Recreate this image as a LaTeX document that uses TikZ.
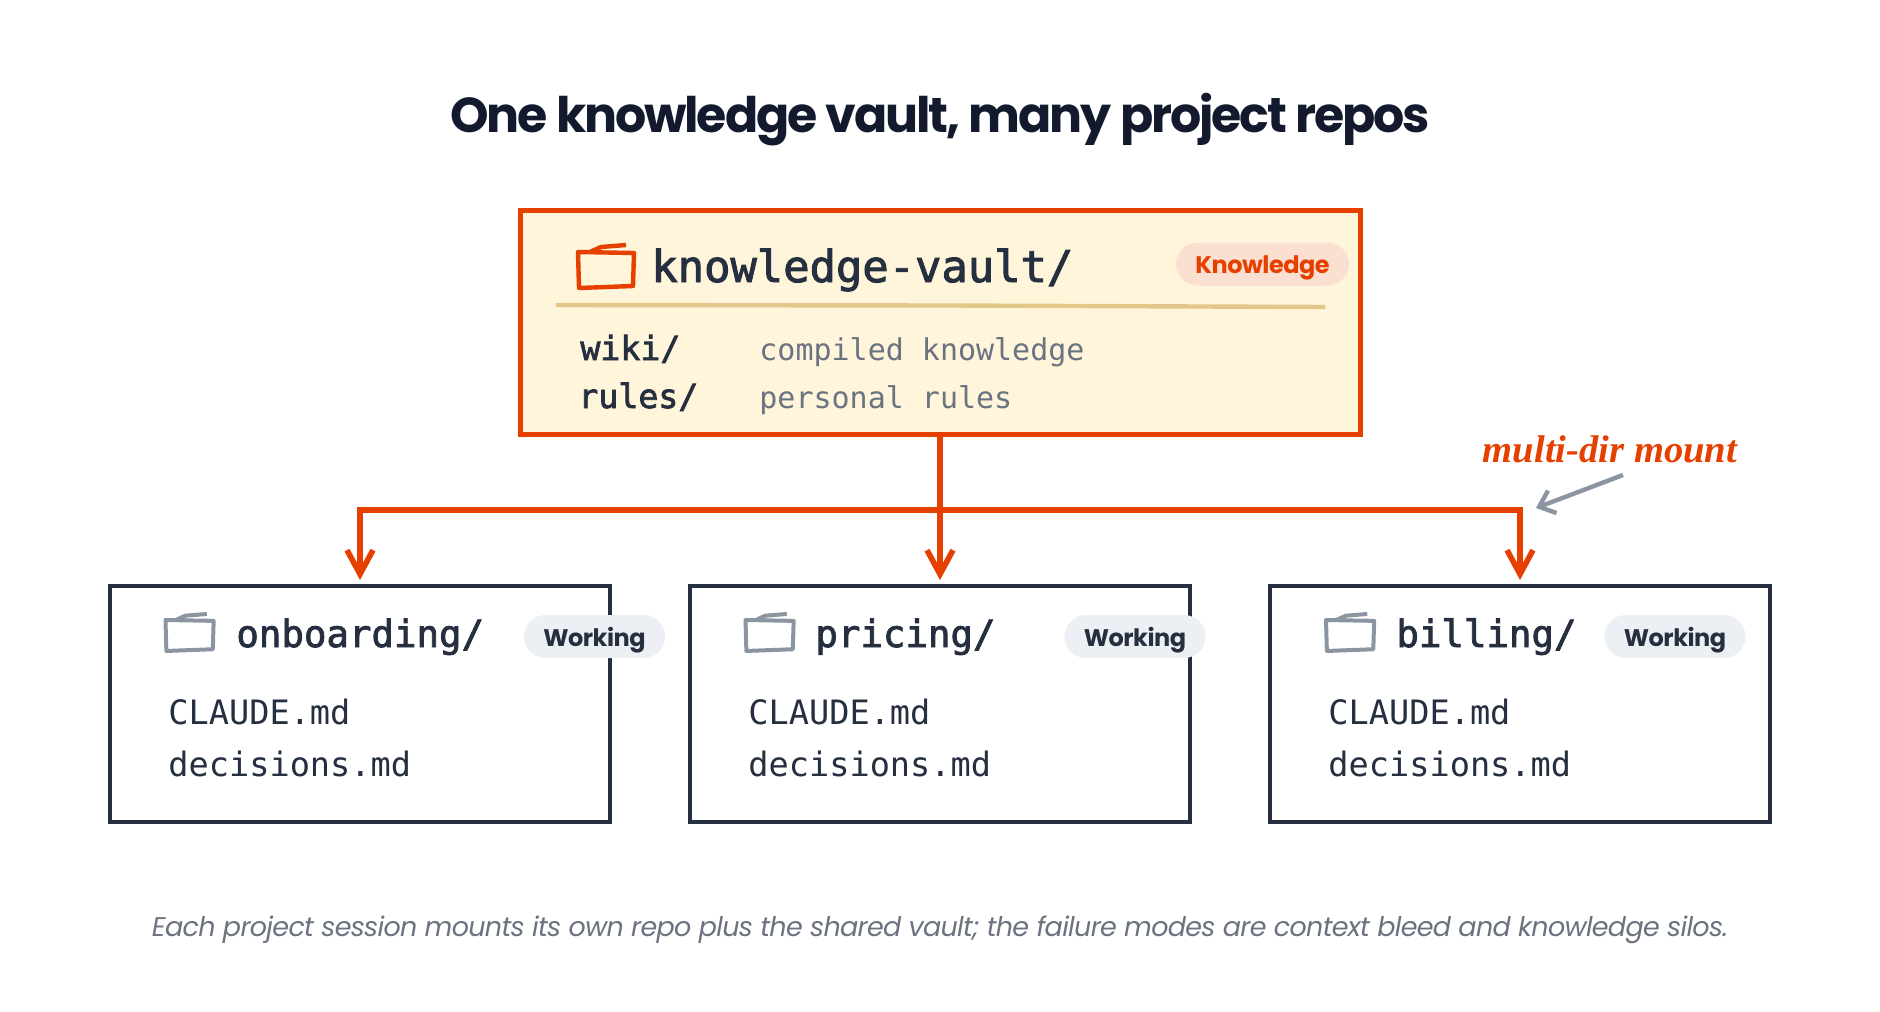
\documentclass[tikz,border=0pt]{standalone}
\usepackage{fontspec}
\usepackage{xcolor}
\usepackage{tikz}
\usetikzlibrary{arrows.meta, positioning, shapes.misc}
\setmainfont{Poppins}
\newfontfamily\monofont{DejaVu Sans Mono}
\newfontfamily\monoheavy[FakeBold=2.2]{DejaVu Sans Mono}
\newfontfamily\notefont{Liberation Serif}
\definecolor{accent}{HTML}{E64000}
\definecolor{ink}{HTML}{252F3F}
\definecolor{titleink}{HTML}{131A2E}
\definecolor{muted}{HTML}{6B7280}
\definecolor{softgray}{HTML}{8B94A1}
\definecolor{vaultfill}{HTML}{FFF5DB}
\definecolor{rulefill}{HTML}{E2C68A}
\definecolor{pillwarm}{HTML}{FBDFD0}
\definecolor{pillcool}{HTML}{ECEFF4}
\tikzset{
  vaultbox/.style={rectangle, draw=accent, fill=vaultfill, line width=2.5pt, outer sep=0pt,
                   minimum width=420pt, minimum height=112pt},
  repobox/.style={rectangle, draw=ink, fill=white, line width=2pt, outer sep=0pt,
                  minimum width=250pt, minimum height=118pt},
  pill/.style={rounded rectangle, inner sep=0pt, minimum height=21.5pt, text height=10pt, text depth=0.5pt,
               font=\fontsize{12}{15}\selectfont\bfseries\addfontfeature{LetterSpace=-2}},
  label/.style={anchor=base west, inner sep=0pt, text=ink},
  vaultname/.style={label, font=\monoheavy\fontsize{21.9}{26}\selectfont},
  reponame/.style={label, font=\monoheavy\fontsize{18.7}{22}\selectfont},
  vaultitem/.style={label, font=\monoheavy\fontsize{16.6}{20}\selectfont},
  vaultnote/.style={label, text=muted, font=\monofont\fontsize{15}{18}\selectfont},
  fileitem/.style={label, font=\monofont\fontsize{16.8}{20}\selectfont},
  link/.style={draw=accent, line width=2.8pt},
  arrow/.style={-{Straight Barb[length=12pt, width=13pt, line width=2.8pt]}, link, shorten >=3pt},
  notearrow/.style={-{Straight Barb[length=7pt, width=12pt, line width=2.2pt]}, draw=softgray, line width=2.2pt},
  foldericon/.pic={
    \draw[line join=round, pic actions] (0,0) -- (56,1) -- (55,34) -- (1,36) -- cycle
      (12,0) -- (23,-5) -- (48,-7);
  }
}
\begin{document}
\begin{tikzpicture}[x=0.5pt, y=-0.5pt]

  \fill[white] (0,0) rectangle (1880,1012);
  \useasboundingbox (0,0) rectangle (1880,1012);

  \node[anchor=base, inner sep=0pt, text=titleink, font=\fontsize{24.5}{30}\selectfont\bfseries] (title)
    at (940,132) {\addfontfeature{LetterSpace=-4.3}One knowledge vault, many project repos};

  \node[vaultbox] (vault) at (940,322) {};
  \node[repobox, below=76pt of vault] (pricing) {};
  \node[repobox, left=40pt of pricing] (onboarding) {};
  \node[repobox, right=40pt of pricing] (billing) {};

  % vault contents
  \pic[draw=accent, line width=2.2pt] at (578,252) {foldericon};
  \node[vaultname] (vaultname) at (651,282) {knowledge-vault/};
  \node[pill, fill=pillwarm, text=accent, minimum width=86.5pt] (vaultpill) at (1262.5,264) {Knowledge};
  \draw[rulefill, line width=2.2pt] (556,305) -- (950,305.5) -- (1325,307);
  \node[vaultitem] (wiki) at (580,360) {wiki/};
  \node[vaultitem] (rules) at (578,408) {rules/};
  \node[vaultnote] (wikinote) at (759,360) {compiled knowledge};
  \node[vaultnote] (rulesnote) at (759,408) {personal rules};

  % repo contents
  \pic[draw=softgray, line width=2pt, scale=0.86] at (165.5,620) {foldericon};
  \node[reponame] (onboardingname) at (236,647) {onboarding/};
  \node[pill, fill=pillcool, text=ink, minimum width=70.5pt] (onboardingpill) at (594.5,636.5) {Working};
  \node[fileitem] (onboardingclaude) at (168,724) {CLAUDE.md};
  \node[fileitem] (onboardingdecisions) at (168,776) {decisions.md};

  \pic[draw=softgray, line width=2pt, scale=0.86] at (745.5,620) {foldericon};
  \node[reponame] (pricingname) at (815,647) {pricing/};
  \node[pill, fill=pillcool, text=ink, minimum width=70.5pt] (pricingpill) at (1135,636.5) {Working};
  \node[fileitem] (pricingclaude) at (748,724) {CLAUDE.md};
  \node[fileitem] (pricingdecisions) at (748,776) {decisions.md};

  \pic[draw=softgray, line width=2pt, scale=0.86] at (1326,620) {foldericon};
  \node[reponame] (billingname) at (1396,647) {billing/};
  \node[pill, fill=pillcool, text=ink, minimum width=70.5pt] (billingpill) at (1675,636.5) {Working};
  \node[fileitem] (billingclaude) at (1328,724) {CLAUDE.md};
  \node[fileitem] (billingdecisions) at (1328,776) {decisions.md};

  % connectors
  \coordinate (bus) at (vault.south |- 0,510);
  \coordinate (busleft) at (onboarding.north |- bus);
  \coordinate (busright) at (billing.north |- bus);
  \draw[link, line cap=rect] (busleft) -- (busright);
  \draw[arrow] (busleft) -- (onboarding.north);
  \draw[arrow] (vault.south) -- (pricing.north);
  \draw[arrow] (busright) -- (billing.north);

  \node[anchor=base, inner sep=0pt, text=accent, font=\notefont\fontsize{19.3}{24}\selectfont\bfseries\itshape] (mount)
    at (1610,462) {multi-dir mount};
  \coordinate (notestart) at (1623,475);
  \coordinate (noteend) at (1536,508);
  \draw[notearrow] (notestart) -- (noteend);

  \node[anchor=base, inner sep=0pt, text=muted, font=\fontsize{13.5}{17}\selectfont\itshape] (caption)
    at (940,936) {\addfontfeature{LetterSpace=-2.6}Each project session mounts its own repo plus the shared vault; the failure modes are context bleed and knowledge silos.};

\end{tikzpicture}
\end{document}
